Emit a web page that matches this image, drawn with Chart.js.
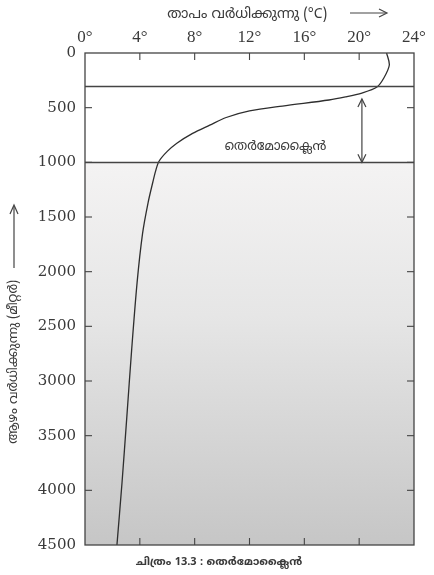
<!DOCTYPE html>
<html><head><meta charset="utf-8">
<script src="https://cdn.jsdelivr.net/npm/chart.js@4.4.1/dist/chart.umd.min.js"></script>
<style>html,body{margin:0;padding:0;background:#fff}#wrap{width:434px;height:575px;position:relative}</style>
</head><body><div id="wrap"><canvas id="c"></canvas></div>
<script>
// ---- data ----
const xTickValues = [0, 4, 8, 12, 16, 20, 24];                 // temperature °C
const yTickValues = [0, 500, 1000, 1500, 2000, 2500, 3000, 3500, 4000, 4500]; // depth m
const temperature = [22.0, 22.2, 21.8, 21.3, 20.2, 19.0, 17.8, 14.4, 12.0, 10.3, 9.1, 7.85, 6.7, 6.0, 5.4, 5.15, 4.95, 4.6, 4.2, 3.8, 3.4, 3.05, 2.7, 2.33];
const depth       = [0,    110,  229,  311,  366,  402,  430,  485,  530,  590,  660, 735,  825, 900, 990, 1080, 1180, 1370, 1650, 2100, 2720, 3330, 3930, 4500];
const boundaryDepths = [300, 1000];
const arrowTemp = 20.2;
const arrowDepths = [420, 1000];
const zoneLabel = 'തെർമോക്ലൈൻ';
const zoneLabelPos = {x: 13.9, y: 860};
const xTitle = 'താപം വർധിക്കുന്നു (°C)';
const yTitle = 'ആഴം വർധിക്കുന്നു (മീറ്റർ)';
const caption = 'ചിത്രം 13.3 : തെർമോക്ലൈൻ';

const ML = "'Noto Sans Malayalam','Noto Sans','DejaVu Sans',sans-serif";
const INK = '#3a3a3a';

const points = temperature.map((t, i) => ({x: t, y: depth[i]}));

const decor = {
  id: 'decor',
  beforeDraw(chart) {
    const {ctx, chartArea: a, scales: {y}} = chart;
    ctx.save();
    ctx.fillStyle = '#ffffff';
    ctx.fillRect(0, 0, chart.width, chart.height);
    const y1 = y.getPixelForValue(boundaryDepths[1]);
    const g = ctx.createLinearGradient(0, y1, 0, a.bottom);
    g.addColorStop(0, '#f4f3f3');
    g.addColorStop(0.4, '#e6e6e6');
    g.addColorStop(1, '#c6c6c6');
    ctx.fillStyle = g;
    ctx.fillRect(a.left, y1, a.right - a.left, a.bottom - y1);
    ctx.restore();
  },
  afterDraw(chart) {
    const {ctx, chartArea: a, scales: {x, y}} = chart;
    ctx.save();
    ctx.strokeStyle = '#444';
    ctx.lineWidth = 1.3;
    // box
    ctx.strokeRect(a.left, a.top, a.right - a.left, a.bottom - a.top);
    // boundary lines
    boundaryDepths.forEach(d => {
      const py = Math.round(y.getPixelForValue(d)) + 0.5;
      ctx.beginPath(); ctx.moveTo(a.left, py); ctx.lineTo(a.right, py); ctx.stroke();
    });
    // inward ticks
    ctx.lineWidth = 1.1;
    const tl = 7;
    xTickValues.forEach(v => {
      const px = x.getPixelForValue(v);
      if (v === xTickValues[0] || v === xTickValues[xTickValues.length - 1]) return;
      ctx.beginPath(); ctx.moveTo(px, a.top); ctx.lineTo(px, a.top + tl); ctx.stroke();
      ctx.beginPath(); ctx.moveTo(px, a.bottom); ctx.lineTo(px, a.bottom - tl); ctx.stroke();
    });
    yTickValues.forEach(v => {
      const py = y.getPixelForValue(v);
      if (v === yTickValues[0] || v === yTickValues[yTickValues.length - 1]) return;
      ctx.beginPath(); ctx.moveTo(a.left, py); ctx.lineTo(a.left + tl, py); ctx.stroke();
      ctx.beginPath(); ctx.moveTo(a.right, py); ctx.lineTo(a.right - tl, py); ctx.stroke();
    });
    // double arrow
    const ax = x.getPixelForValue(arrowTemp);
    const ay1 = y.getPixelForValue(arrowDepths[0]);
    const ay2 = y.getPixelForValue(arrowDepths[1]);
    ctx.lineWidth = 1.2;
    ctx.beginPath(); ctx.moveTo(ax, ay1); ctx.lineTo(ax, ay2); ctx.stroke();
    ctx.beginPath(); ctx.moveTo(ax - 4, ay1 + 8); ctx.lineTo(ax, ay1); ctx.lineTo(ax + 4, ay1 + 8); ctx.stroke();
    ctx.beginPath(); ctx.moveTo(ax - 4, ay2 - 8); ctx.lineTo(ax, ay2); ctx.lineTo(ax + 4, ay2 - 8); ctx.stroke();
    // zone label
    ctx.fillStyle = INK;
    ctx.font = "13px " + ML;
    ctx.textAlign = 'center'; ctx.textBaseline = 'middle';
    ctx.fillText(zoneLabel, x.getPixelForValue(zoneLabelPos.x), y.getPixelForValue(zoneLabelPos.y));
    // top title + arrow
    ctx.font = "14px " + ML;
    ctx.textAlign = 'center';
    ctx.fillText(xTitle, 247, 15);
    ctx.beginPath(); ctx.moveTo(350, 13); ctx.lineTo(386, 13); ctx.stroke();
    ctx.beginPath(); ctx.moveTo(379, 9); ctx.lineTo(387, 13); ctx.lineTo(379, 17); ctx.stroke();
    // y title + arrow
    ctx.beginPath(); ctx.moveTo(14, 268); ctx.lineTo(14, 206); ctx.stroke();
    ctx.beginPath(); ctx.moveTo(10, 214); ctx.lineTo(14, 205); ctx.lineTo(18, 214); ctx.stroke();
    ctx.save();
    ctx.translate(14, 362);
    ctx.rotate(-Math.PI / 2);
    ctx.font = "13px " + ML;
    ctx.fillText(yTitle, 0, 0);
    ctx.restore();
    // caption
    ctx.font = "bold 11px " + ML;
    ctx.textAlign = 'center';
    ctx.fillText(caption, 219, 563);
    ctx.restore();
  }
};

new Chart(document.getElementById('c'), {
  type: 'line',
  data: {
    datasets: [{
      data: points,
      borderColor: '#2e2e2e',
      borderWidth: 1.3,
      pointRadius: 0,
      tension: 0.3,
      fill: false
    }]
  },
  options: {
    responsive: true,
    maintainAspectRatio: false,
    animation: false,
    layout: {padding: {top: 0, right: 20, bottom: 30, left: 0}},
    plugins: {legend: {display: false}, tooltip: {enabled: false}, title: {display: false}},
    scales: {
      x: {
        type: 'linear', position: 'top', min: 0, max: 24,
        afterBuildTicks: s => { s.ticks = xTickValues.map(v => ({value: v})); },
        afterFit: s => { s.height = 53; },
        ticks: {callback: v => v + '°', font: {family: 'Liberation Serif', size: 17}, color: INK, padding: 5, maxRotation: 0, autoSkip: false},
        grid: {display: false, drawTicks: false},
        border: {display: false}
      },
      y: {
        type: 'linear', reverse: true, min: 0, max: 4500,
        afterBuildTicks: s => { s.ticks = yTickValues.map(v => ({value: v})); },
        afterFit: s => { s.width = 85; },
        ticks: {callback: v => String(v), font: {family: 'DejaVu Serif', size: 15}, color: INK, padding: 9, autoSkip: false},
        grid: {display: false, drawTicks: false},
        border: {display: false}
      }
    }
  },
  plugins: [decor]
});
</script>
</body></html>
